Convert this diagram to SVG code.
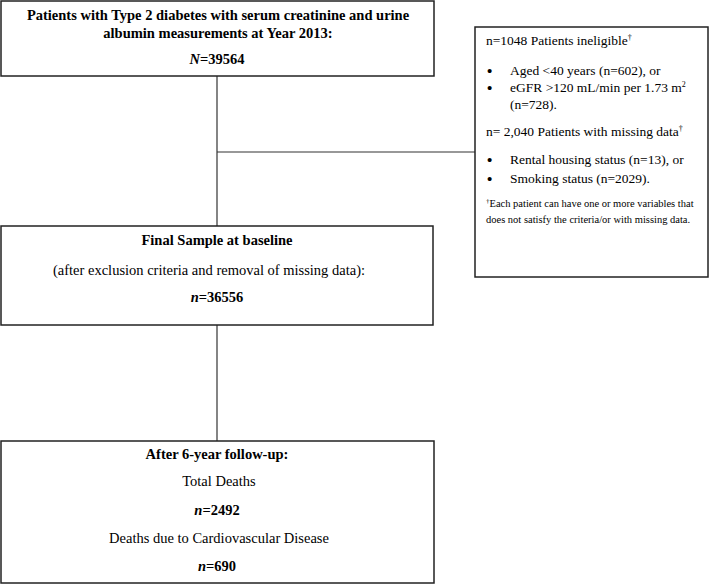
<svg xmlns="http://www.w3.org/2000/svg" width="709" height="585" viewBox="0 0 709 585">
<style>
.box{fill:#fff;stroke:#222;stroke-width:1.5}
.ln{stroke:#333;stroke-width:1.2;fill:none}
text{font-family:"Liberation Serif","Times New Roman",serif;fill:#000}
.c{text-anchor:middle}
.b{font-weight:bold}
.t14{font-size:14.5px}
.t13{font-size:13.5px}
.t10{font-size:10.5px}
.bul{font-size:15px;font-weight:bold}
</style>
<rect width="709" height="585" fill="#fff"/>
<g id="connectors">
<line class="ln" x1="217" y1="76" x2="217" y2="226"/>
<line class="ln" x1="217" y1="152" x2="475" y2="152"/>
<line class="ln" x1="217" y1="325" x2="217" y2="441"/>
</g>
<g id="node-initial">
<rect class="box" x="1" y="1" width="433" height="75"/>
<text class="c b t14" x="218" y="20">Patients with Type 2 diabetes with serum creatinine and urine</text>
<text class="c b t14" x="218" y="38">albumin measurements at Year 2013:</text>
<text class="c b t14" x="217" y="64"><tspan font-style="italic">N</tspan>=39564</text>
</g>
<g id="node-excluded">
<rect class="box" x="475" y="27" width="233" height="250"/>
<text class="t13" x="486" y="45">n=1048 Patients ineligible<tspan font-size="8" dy="-5">†</tspan></text>
<text class="bul" x="487" y="76">•</text>
<text class="t13" x="510" y="75">Aged &lt;40 years (n=602), or</text>
<text class="bul" x="487" y="93">•</text>
<text class="t13" x="510" y="92">eGFR &gt;120 mL/min per 1.73 m<tspan font-size="8" dy="-5">2</tspan></text>
<text class="t13" x="510" y="109">(n=728).</text>
<text class="t13" x="486" y="136">n= 2,040 Patients with missing data<tspan font-size="8" dy="-5">†</tspan></text>
<text class="bul" x="487" y="165">•</text>
<text class="t13" x="510" y="164">Rental housing status (n=13), or</text>
<text class="bul" x="487" y="184">•</text>
<text class="t13" x="510" y="183">Smoking status (n=2029).</text>
<text class="t10" x="486" y="207"><tspan font-size="7" dy="-4">†</tspan><tspan dy="4">Each patient can have one or more variables that</tspan></text>
<text class="t10" x="486" y="223">does not satisfy the criteria/or with missing data.</text>
</g>
<g id="node-final">
<rect class="box" x="1" y="226" width="432" height="99"/>
<text class="c b t14" x="217" y="245">Final Sample at baseline</text>
<text class="c t14" x="209" y="275">(after exclusion criteria and removal of missing data):</text>
<text class="c b t14" x="217" y="302"><tspan font-style="italic">n</tspan>=36556</text>
</g>
<g id="node-followup">
<rect class="box" x="1" y="441" width="433" height="142"/>
<text class="c b t14" x="217" y="459">After 6-year follow-up:</text>
<text class="c t14" x="219" y="486">Total Deaths</text>
<text class="c b t14" x="217" y="515"><tspan font-style="italic">n</tspan>=2492</text>
<text class="c t14" x="219" y="543">Deaths due to Cardiovascular Disease</text>
<text class="c b t14" x="217" y="571"><tspan font-style="italic">n</tspan>=690</text>
</g>
</svg>
